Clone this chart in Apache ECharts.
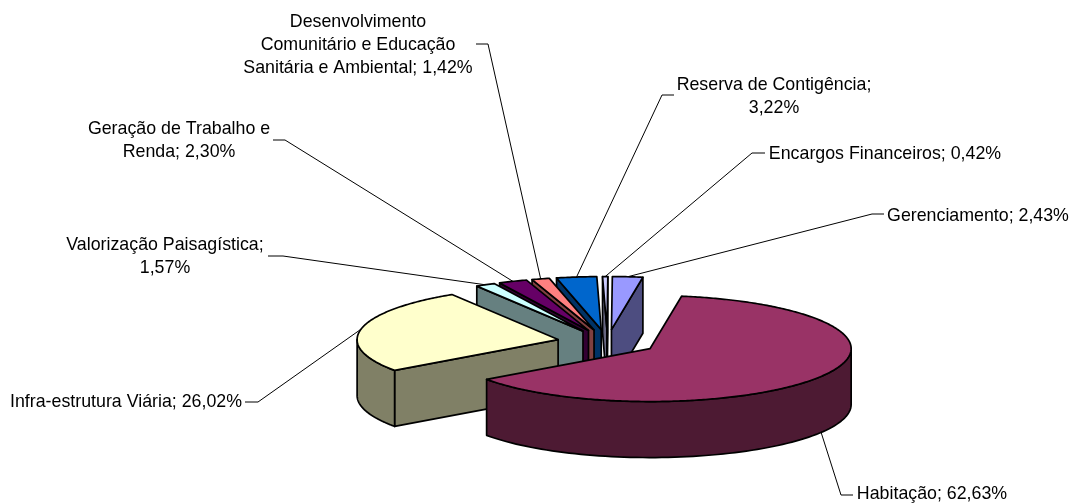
<!DOCTYPE html>
<html>
<head>
<meta charset="utf-8">
<style>html,body{margin:0;padding:0;background:#fff}#c{width:1071px;height:504px}</style>
<script src="https://cdn.jsdelivr.net/npm/echarts@6/dist/echarts.min.js"></script>
</head>
<body>
<div id="c"></div>
<script>
// --- data ---
const categories = ['Habitação','Infra-estrutura Viária','Valorização Paisagística','Geração de Trabalho e Renda','Desenvolvimento Comunitário e Educação Sanitária e Ambiental','Reserva de Contigência','Encargos Financeiros','Gerenciamento'];
const shares = [62.63,26.02,1.57,2.30,1.42,3.22,0.42,2.43];
const topColors = ['#993366','#FFFFCC','#CCFFFF','#660066','#FF8080','#0066CC','#CCCCFF','#9999FF'];
const wallColors = ['#4D1A33','#808066','#668080','#330033','#804040','#003366','#666680','#4D4D80'];
const labelNames = ['Habitação','Infra-estrutura Viária','Valorização Paisagística','Geração de Trabalho e\nRenda','Desenvolvimento\nComunitário e Educação\nSanitária e Ambiental','Reserva de Contigência','Encargos Financeiros','Gerenciamento'];
const labelSeps = ['; ','; ',';\n','; ','; ',';\n','; ','; '];
// --- layout ---
const labelCenters = [[932,494],[126,402],[165,257],[179,141],[358,45],[774,97],[885,154],[978,216]];
const leaderStarts = [[853,495],[245,402],[268,256],[273,140],[476,44],[674,95],[765,153],[884,214]];
const leaderElbows = [[841,495],[258,402],[283,256],[285,140],[488,44],[662,95],[752,153],[872,214]];
const pie = {cx:607.4, cy:342, rx:201, ry:53, depth:56, explodeX:0.25, explodeY:0.235, startDeg:9};

const total = shares.reduce((a,b)=>a+b,0);
const rad = d => d*Math.PI/180;
let acc = pie.startDeg;
const spans = shares.map(v => { const s = acc; acc += v/total*360; return [s, acc]; });
function centerOf(i){
  const m = rad((spans[i][0]+spans[i][1])/2);
  return [pie.cx + pie.explodeX*pie.rx*Math.sin(m), pie.cy - pie.explodeY*pie.ry*Math.cos(m)];
}
function rim(c, deg, dz){
  const a = rad(deg);
  return [c[0]+pie.rx*Math.sin(a), c[1]-pie.ry*Math.cos(a)+(dz||0)];
}
const edge = {stroke:'#000', lineWidth:1.7, lineJoin:'round'};
function poly(points, fill){
  return {type:'polygon', shape:{points}, style:Object.assign({fill}, edge)};
}
function renderSlice(params, api){
  const i = api.value(0), c = centerOf(i), s = spans[i][0], e = spans[i][1];
  const ch = [];
  const low = [c[0], c[1]+pie.depth];
  const cut = deg => poly([c, rim(c,deg), rim(c,deg,pie.depth), low], wallColors[i]);
  if (Math.sin(rad(s)) < 0) ch.push(cut(s));
  if (Math.sin(rad(e)) > 0) ch.push(cut(e));
  // outer wall: only the arc facing the viewer (90..270 degrees)
  const a0 = Math.max(s,90), a1 = Math.min(e,270);
  if (a1 > a0){
    const up = [], dn = [];
    for (let k=0;k<=80;k++){
      const d = a0+(a1-a0)*k/80;
      up.push(rim(c,d)); dn.unshift(rim(c,d,pie.depth));
    }
    ch.push(poly(up.concat(dn), wallColors[i]));
  }
  const pts = [c], n = Math.max(4, Math.ceil((e-s)*1.5));
  for (let k=0;k<=n;k++) pts.push(rim(c, s+(e-s)*k/n));
  ch.push(poly(pts, topColors[i]));
  return {type:'group', children:ch};
}
function renderLabel(params, api){
  const i = api.value(0), c = centerOf(i), m = (spans[i][0]+spans[i][1])/2;
  const front = Math.cos(rad(m)) < 0;
  const end = rim(c, m, front ? pie.depth : 0);
  const text = labelNames[i] + labelSeps[i] + shares[i].toFixed(2).replace('.',',') + '%';
  return {type:'group', children:[
    {type:'polyline', shape:{points:[leaderStarts[i], leaderElbows[i], end]}, style:{stroke:'#000', lineWidth:1, fill:null}},
    {type:'text', style:{x:labelCenters[i][0], y:labelCenters[i][1], text, fill:'#000',
      font:'17.8px "Liberation Sans", Arial, sans-serif', lineHeight:22.8, align:'center', verticalAlign:'middle'}}
  ]};
}
// painter's order: back of the pie first, the large front slice last
const drawOrder = shares.map((_,i)=>i).reverse();
const chart = echarts.init(document.getElementById('c'), null, {renderer:'canvas'});
chart.setOption({
  animation:false,
  backgroundColor:'#fff',
  series:[
    {type:'custom', name:'Fatias', coordinateSystem:'none', clip:false, renderItem:renderSlice, data:drawOrder.map(i=>[i, shares[i], categories[i]]), encode:{value:1,itemName:2}},
    {type:'custom', name:'Rótulos', coordinateSystem:'none', clip:false, z:5, renderItem:renderLabel, data:shares.map((v,i)=>[i, v, categories[i]]), encode:{value:1,itemName:2}}
  ]
});
</script>
</body>
</html>
